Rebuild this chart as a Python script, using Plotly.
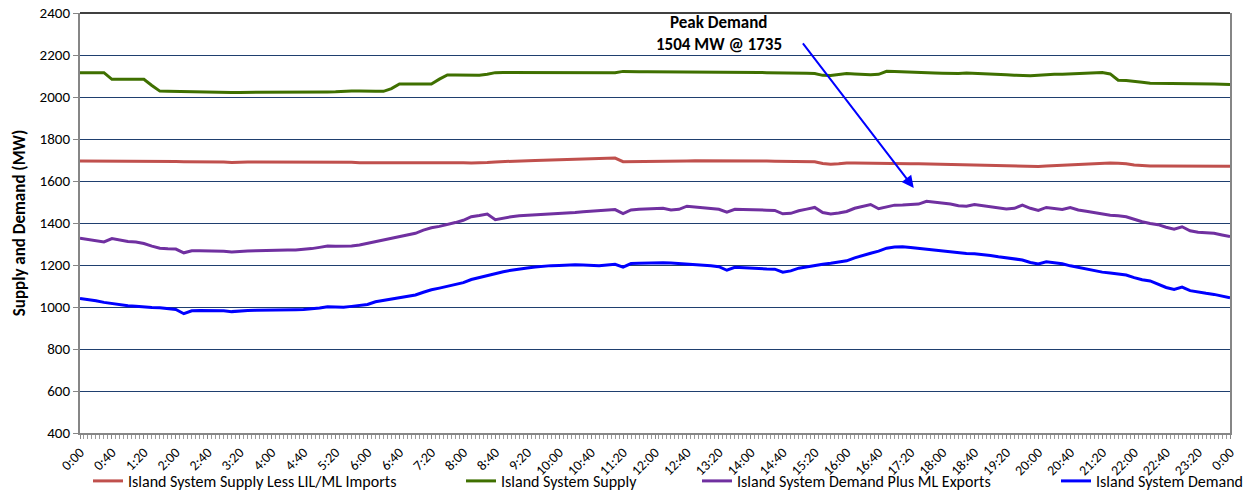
import plotly.graph_objects as go

# time of day in minutes, 10-minute readings from 0:00 to 24:00
minutes = list(range(0, 1441, 10))

supply_less_imports = [
    1695, 1695, 1695, 1696, 1694, 1693, 1694, 1694, 1694, 1693, 1694, 1694,
    1693, 1692, 1692, 1692, 1692, 1691, 1690, 1688, 1690, 1690, 1690, 1690,
    1690, 1690, 1690, 1690, 1689, 1688, 1689, 1690, 1690, 1691, 1689, 1687,
    1687, 1688, 1688, 1688, 1690, 1690, 1689, 1688, 1688, 1689, 1689, 1688,
    1687, 1686, 1686, 1688, 1691, 1693, 1695, 1696, 1697, 1698, 1699, 1700,
    1702, 1703, 1704, 1706, 1707, 1708, 1709, 1709, 1692, 1692, 1692, 1692,
    1692, 1692, 1693, 1694, 1695, 1696, 1696, 1697, 1697, 1698, 1698, 1697,
    1696, 1695, 1695, 1694, 1694, 1693, 1693, 1693, 1692, 1683, 1680, 1682,
    1686, 1686, 1685, 1684, 1684, 1683, 1683, 1682, 1682, 1682, 1681, 1680,
    1679, 1678, 1678, 1678, 1678, 1677, 1676, 1675, 1674, 1672, 1670, 1668,
    1669, 1671, 1673, 1675, 1678, 1680, 1682, 1684, 1686, 1686, 1684, 1682,
    1676, 1672, 1671, 1671, 1671, 1671, 1672, 1672, 1671, 1671, 1671, 1671,
    1670,
]

system_supply = [
    2116, 2116, 2116, 2116, 2084, 2084, 2084, 2084, 2084, 2055, 2028, 2027,
    2026, 2025, 2024, 2024, 2023, 2022, 2021, 2021, 2022, 2022, 2022, 2021,
    2021, 2021, 2021, 2021, 2021, 2022, 2024, 2024, 2025, 2028, 2029, 2028,
    2026, 2027, 2027, 2040, 2062, 2062, 2062, 2062, 2062, 2085, 2105, 2105,
    2105, 2105, 2104, 2108, 2116, 2117, 2117, 2117, 2117, 2117, 2116, 2116,
    2117, 2117, 2117, 2117, 2117, 2117, 2117, 2115, 2122, 2120, 2120, 2120,
    2120, 2119, 2119, 2119, 2119, 2119, 2119, 2118, 2118, 2118, 2118, 2117,
    2117, 2117, 2116, 2116, 2115, 2115, 2114, 2113, 2112, 2103, 2102, 2106,
    2112, 2110, 2108, 2106, 2108, 2122, 2121, 2119, 2117, 2116, 2115, 2114,
    2113, 2111, 2112, 2114, 2113, 2112, 2110, 2108, 2106, 2104, 2102, 2101,
    2103, 2106, 2108, 2108, 2110, 2112, 2113, 2114, 2117, 2110, 2080, 2078,
    2075, 2070, 2065, 2065, 2065, 2064, 2064, 2064, 2063, 2063, 2062, 2061,
    2060,
]

demand_plus_exports = [
    1327, 1322, 1315, 1310, 1326, 1318, 1312, 1309, 1302, 1290, 1280, 1277,
    1276, 1258, 1268, 1268, 1268, 1267, 1266, 1262, 1266, 1267, 1268, 1268,
    1269, 1270, 1271, 1272, 1274, 1278, 1284, 1290, 1289, 1289, 1291, 1295,
    1303, 1311, 1319, 1327, 1334, 1342, 1351, 1366, 1377, 1384, 1392, 1402,
    1413, 1430, 1436, 1443, 1416, 1424, 1430, 1434, 1436, 1437, 1440, 1442,
    1444, 1446, 1450, 1454, 1457, 1459, 1461, 1464, 1445, 1462, 1466, 1468,
    1469, 1470, 1462, 1465, 1480, 1477, 1472, 1468, 1465, 1452, 1465, 1464,
    1462, 1462, 1461, 1460, 1444, 1446, 1458, 1466, 1474, 1450, 1443, 1448,
    1455, 1470, 1480, 1488, 1468, 1478, 1485, 1486, 1487, 1490, 1503, 1499,
    1495, 1490, 1482, 1480, 1488, 1482, 1476, 1470, 1467, 1470, 1485, 1470,
    1460, 1474, 1470, 1464, 1474, 1462, 1456, 1450, 1442, 1437, 1434, 1430,
    1418, 1406, 1398, 1392, 1380, 1370, 1382, 1363, 1356, 1353, 1351, 1343,
    1335,
]

system_demand = [
    1041, 1036, 1030, 1022, 1017, 1009, 1006, 1004, 1000, 998, 996, 992,
    988, 968, 982, 983, 982, 984, 982, 978, 982, 983, 984, 984,
    984, 985, 986, 987, 988, 990, 995, 1001, 999, 999, 1003, 1007,
    1012, 1025, 1031, 1037, 1042, 1050, 1057, 1070, 1082, 1090, 1098, 1107,
    1116, 1131, 1141, 1150, 1160, 1168, 1175, 1182, 1186, 1190, 1194, 1197,
    1198, 1200, 1201, 1200, 1199, 1197, 1200, 1203, 1190, 1207, 1208, 1210,
    1212, 1211, 1209, 1207, 1205, 1203, 1200, 1196, 1192, 1175, 1189, 1186,
    1185, 1183, 1181, 1180, 1166, 1172, 1185, 1192, 1198, 1204, 1208, 1213,
    1220, 1234, 1246, 1256, 1266, 1280, 1286, 1287, 1283, 1279, 1275, 1271,
    1266, 1261, 1257, 1255, 1253, 1250, 1245, 1239, 1233, 1229, 1224, 1212,
    1205, 1215, 1211, 1206, 1196, 1188, 1181, 1173, 1166, 1162, 1157, 1152,
    1140, 1130, 1124, 1110, 1093, 1084, 1095, 1078, 1070, 1065, 1060, 1052,
    1044,
]

tick_minutes = list(range(0, 1441, 40))
tick_labels = [
    "0:00", "0:40", "1:20", "2:00", "2:40", "3:20", "4:00", "4:40", "5:20",
    "6:00", "6:40", "7:20", "8:00", "8:40", "9:20", "10:00", "10:40", "11:20",
    "12:00", "12:40", "13:20", "14:00", "14:40", "15:20", "16:00", "16:40",
    "17:20", "18:00", "18:40", "19:20", "20:00", "20:40", "21:20", "22:00",
    "22:40", "23:20", "0:00",
]

series_names = [
    "Island System Supply Less LIL/ML Imports",
    "Island System Supply",
    "Island System Demand Plus ML Exports",
    "Island System Demand",
]
series_values = [supply_less_imports, system_supply, demand_plus_exports, system_demand]
series_colors = ["#C0504D", "#3F7000", "#7030A0", "#0000FF"]
legend_ids = ["legend", "legend2", "legend3", "legend4"]
# left edge of each legend entry, in page pixels
legend_px = [88, 461, 697, 1056]

peak_minute = 1055
peak_value = 1504

FONT = "Carlito, Calibri, 'Liberation Sans', Arial, sans-serif"

W, H = 1249, 499
L, T, R, B = 80, 13, 19, 66
PW = W - L - R
PH = H - T - B

fig = go.Figure()
for name, vals, col, lid in zip(series_names, series_values, series_colors, legend_ids):
    fig.add_trace(go.Scatter(
        x=minutes, y=vals, mode="lines", name=name,
        line=dict(color=col, width=3), legend=lid,
    ))

layout_legends = {}
for lid, lpx in zip(legend_ids, legend_px):
    layout_legends[lid] = dict(
        x=(lpx - L) / PW, xanchor="left", y=-(B - 1) / PH, yanchor="bottom",
        orientation="h", font=dict(family=FONT, size=16, color="#000000"),
        bgcolor="rgba(0,0,0,0)", borderwidth=0, itemwidth=30,
        tracegroupgap=0,
    )

fig.update_layout(
    width=W, height=H,
    margin=dict(l=L, r=R, t=T, b=B, autoexpand=False),
    paper_bgcolor="white", plot_bgcolor="white",
    font=dict(family=FONT, size=14, color="#000000"),
    showlegend=True,
    **layout_legends,
)

fig.update_xaxes(
    range=[0, 1440], automargin=False,
    tickmode="array", tickvals=tick_minutes, ticktext=tick_labels,
    tickangle=-45, tickfont=dict(family=FONT, size=14),
    ticks="outside", ticklen=4, tickcolor="#868686",
    minor=dict(dtick=5, tick0=0, ticks="outside", ticklen=4, tickcolor="#9a9a9a", showgrid=False),
    showgrid=False, zeroline=False,
    showline=True, linecolor="#868686", linewidth=1.5,
)
fig.update_yaxes(
    range=[400, 2400], dtick=200, tick0=400, automargin=False,
    tickfont=dict(family=FONT, size=15),
    ticks="outside", ticklen=5, tickcolor="#868686",
    showgrid=True, gridcolor="#1F3F6F", gridwidth=1,
    zeroline=False,
    showline=True, linecolor="#868686", linewidth=2, mirror=True,
    title=dict(text="<b>Supply and Demand (MW)</b>", font=dict(family=FONT, size=17), standoff=10),
)

# top border
fig.add_shape(type="line", xref="paper", yref="paper", x0=0, x1=1, y0=1, y1=1,
              line=dict(color="#000000", width=1.5))

# peak demand annotation
fig.add_annotation(x=800, y=2357, xref="x", yref="y", text="<b>Peak Demand</b>",
                   showarrow=False, font=dict(family=FONT, size=17, color="#000000"))
fig.add_annotation(x=800, y=2248, xref="x", yref="y",
                   text="<b>%d MW @ %02d%02d</b>" % (peak_value, peak_minute // 60, peak_minute % 60),
                   showarrow=False, font=dict(family=FONT, size=17, color="#000000"))
fig.add_annotation(x=1044, y=1567, xref="x", yref="y", text="",
                   showarrow=True, ax=-112, ay=-146, axref="pixel", ayref="pixel",
                   arrowhead=2, arrowsize=1.2, arrowwidth=2, arrowcolor="#0000FF")

# remove the default page margin so the figure sits at the window's origin
fig.write_html("out.html", config={"displayModeBar": False},
               post_script="document.body.style.margin='0';")
